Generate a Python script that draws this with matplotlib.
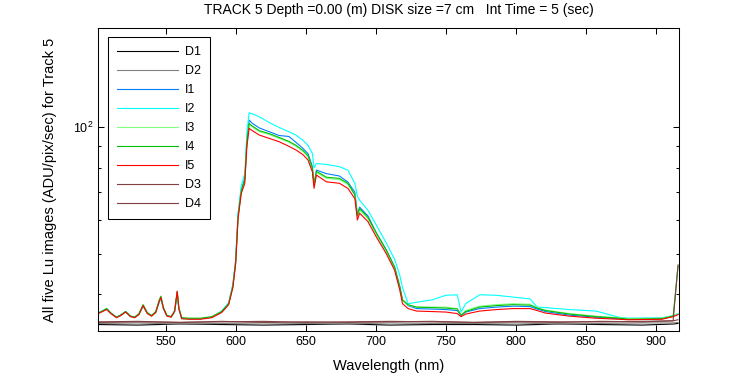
import matplotlib
matplotlib.use("Agg")
import matplotlib.pyplot as plt
from matplotlib.ticker import NullFormatter, FixedLocator

plt.rcParams['font.family'] = ['Liberation Sans', 'DejaVu Sans']
plt.rcParams['font.size'] = 9

# wavelength grid (nm) for the five Lu images
wl = [502, 505, 508, 511, 515, 518, 521.5, 525, 528, 531, 534, 537, 540, 543,
      545.5, 546.7, 548.5, 551, 554, 556.5, 558.3, 559.5, 561.5, 567, 575, 583,
      590, 595, 598, 600, 601.7, 604, 606.5, 608, 609.6, 612, 617, 624, 631, 638,
      643, 648, 651.6, 654.7, 655.9, 657.6, 664.7, 674, 680, 685, 686.8, 688.4,
      694.3, 700.3, 707.4, 713.3, 717, 719, 723, 729, 740, 750, 758, 760.8, 764,
      774, 786, 798, 810, 815, 821, 838, 857, 873, 880, 904, 912, 915.5]

i1 = [36.1, 36.5, 36.9, 36.1, 35.3, 35.7, 36.4, 35.5, 35.3, 35.9, 37.5, 36.1, 35.6, 36.3,
      38.4, 39.1, 37.0, 35.6, 35.4, 36.4, 40.3, 37.0, 35.1, 35.0, 35.0, 35.3,
      36.4, 38.1, 42.0, 48.0, 61.5, 71.0, 75.5, 93.0, 103.9, 102.0, 99.5, 97.5, 95.5, 95.0,
      92.0, 89.0, 86.5, 80.5, 73.0, 79.0, 77.5, 76.5, 74.0, 70.0, 62.0, 64.5,
      61.5, 56.0, 51.0, 46.5, 41.8, 38.8, 37.6, 37.0, 36.9, 36.8, 36.6, 35.6, 36.3,
      37.0, 37.3, 37.5, 37.4, 36.9, 36.4, 35.7, 35.3, 35.0, 34.9, 35.0, 35.5, 35.9]

i2 = [36.2, 36.6, 37.0, 36.1, 35.2, 35.7, 36.4, 35.4, 35.3, 35.9, 37.4, 36.1, 35.6, 36.3,
      38.3, 39.0, 36.9, 35.5, 35.4, 36.3, 40.0, 36.8, 35.0, 35.0, 35.0, 35.3,
      36.5, 38.2, 42.3, 48.5, 62.5, 72.5, 77.5, 97.0, 108.2, 107.5, 105.8, 102.5, 99.8, 97.5,
      95.7, 93.0, 90.5, 86.6, 80.0, 81.9, 81.5, 80.5, 79.0, 73.5, 68.5, 67.0,
      63.4, 58.5, 53.0, 48.5, 44.5, 41.5, 38.0, 38.3, 38.8, 39.8, 39.9, 36.3, 38.0,
      39.9, 39.8, 39.4, 39.0, 37.3, 37.2, 36.8, 36.5, 35.3, 35.1, 35.2, 35.6, 36.0]

i3 = [36.1, 36.5, 36.9, 36.0, 35.3, 35.6, 36.3, 35.5, 35.2, 35.8, 37.7, 36.0, 35.5, 36.2,
      38.6, 39.4, 37.1, 35.6, 35.3, 36.5, 40.5, 37.1, 35.1, 34.9, 35.0, 35.3,
      36.3, 37.9, 41.7, 47.6, 61.0, 70.0, 74.5, 91.5, 101.5, 100.0, 97.5, 96.0, 94.0, 92.0,
      90.0, 87.5, 85.0, 79.5, 72.5, 78.0, 75.5, 75.0, 73.0, 69.0, 61.5, 63.5,
      60.5, 55.5, 50.5, 46.2, 41.5, 38.6, 37.7, 37.3, 37.3, 37.3, 37.0, 35.7, 36.6,
      37.5, 37.8, 38.0, 37.9, 37.2, 36.7, 36.0, 35.5, 35.2, 35.0, 35.1, 35.6, 36.0]

i4 = [36.1, 36.5, 37.0, 36.1, 35.3, 35.7, 36.4, 35.5, 35.3, 36.0, 37.8, 36.2, 35.6, 36.4,
      38.8, 39.6, 37.2, 35.6, 35.4, 36.6, 40.6, 37.1, 35.2, 35.1, 35.1, 35.4,
      36.4, 38.0, 41.8, 47.8, 61.2, 70.5, 75.0, 92.0, 102.0, 100.5, 98.0, 96.5, 94.5, 92.5,
      90.5, 88.0, 85.5, 80.0, 73.0, 78.5, 76.0, 75.5, 73.5, 69.0, 61.5, 64.0,
      61.0, 56.0, 51.0, 46.5, 41.8, 38.8, 37.8, 37.3, 37.2, 37.1, 36.9, 35.7, 36.4,
      37.3, 37.6, 37.8, 37.7, 37.1, 36.6, 35.9, 35.4, 35.1, 34.9, 35.0, 35.5, 46.7]

i5 = [36.0, 36.4, 36.8, 36.0, 35.2, 35.6, 36.3, 35.4, 35.2, 35.8, 37.6, 36.0, 35.5, 36.2,
      38.5, 39.3, 37.0, 35.5, 35.3, 36.5, 40.7, 37.0, 35.0, 34.9, 34.9, 35.2,
      36.2, 37.8, 41.5, 47.3, 60.6, 69.5, 73.5, 89.8, 99.3, 98.0, 95.7, 94.0, 92.3, 90.0,
      88.2, 86.0, 83.5, 78.3, 71.5, 76.9, 74.1, 73.5, 71.5, 67.6, 60.1, 62.4,
      59.6, 54.8, 50.0, 45.7, 41.0, 38.0, 37.0, 36.5, 36.4, 36.3, 36.0, 35.4, 35.9,
      36.5, 36.8, 37.0, 37.0, 36.6, 36.1, 35.5, 35.1, 34.9, 34.8, 34.9, 35.4, 35.8]

# dark frames
wl_dark = [502, 530, 560, 590, 620, 650, 680, 710, 740, 770, 800, 830, 860, 890, 912, 915.5]
d1 = [33.9, 33.8, 34.0, 33.9, 33.8, 33.9, 34.0, 33.8, 33.9, 33.9, 33.8, 34.0, 33.9, 33.8, 34.0, 34.1]
d2 = [34.1, 34.2, 34.0, 34.1, 34.2, 34.1, 34.0, 34.2, 34.1, 34.1, 34.2, 34.0, 34.1, 34.2, 34.2, 34.3]
d3 = [34.4, 34.5, 34.3, 34.4, 34.5, 34.3, 34.4, 34.5, 34.4, 34.3, 34.5, 34.4, 34.4, 34.5, 34.6, 47.0]
d4 = [34.3, 34.4, 34.3, 34.5, 34.3, 34.4, 34.3, 34.4, 34.5, 34.3, 34.4, 34.3, 34.5, 34.4, 34.6, 34.8]

brown = '#804040'

fig = plt.figure(figsize=(7.5, 3.75), dpi=100)
ax = fig.add_axes([0.131, 0.117, 0.774, 0.808])

lw = 0.8
ax.plot(wl_dark, d1, color='black', lw=lw, label='D1')
ax.plot(wl_dark, d2, color='#808080', lw=lw, label='D2')
ax.plot(wl, i1, color='#0080ff', lw=lw, label='I1')
ax.plot(wl, i2, color='#00ffff', lw=lw, label='I2')
ax.plot(wl, i3, color='#80ff80', lw=lw, label='I3')
ax.plot(wl, i4, color='#00c000', lw=lw, label='I4')
ax.plot(wl, i5, color='#ff0000', lw=lw, label='I5')
ax.plot(wl_dark, d3, color=brown, lw=lw, label='D3')
ax.plot(wl_dark, d4, color=brown, lw=lw, label='D4')

ax.set_yscale('log')
ax.set_xlim(502, 916)
ax.set_ylim(32.7, 172)
ax.set_xticks([550, 600, 650, 700, 750, 800, 850, 900])
ax.yaxis.set_major_locator(FixedLocator([100]))
ax.set_yticklabels([r'$\mathregular{10^{2}}$'])
ax.yaxis.set_minor_locator(FixedLocator([40, 50, 60, 70, 80, 90]))
ax.yaxis.set_minor_formatter(NullFormatter())

ax.tick_params(which='both', direction='in', top=True, right=True, width=0.75)
ax.tick_params(which='major', length=4.3)
ax.tick_params(which='minor', length=2.2)
for s in ax.spines.values():
    s.set_linewidth(0.75)

ax.set_title('TRACK 5 Depth =0.00 (m) DISK size =7 cm   Int Time = 5 (sec)',
             fontsize=10, pad=10, x=0.518)
ax.set_xlabel('Wavelength (nm)', fontsize=10.5)
ax.set_ylabel('All five Lu images (ADU/pix/sec) for Track 5', fontsize=10.5)
ax.yaxis.set_label_coords(-0.071, 0.5)
ax.xaxis.set_label_coords(0.5, -0.093)

leg = ax.legend(loc='upper left', bbox_to_anchor=(0.0167, 0.970), borderaxespad=0,
                fancybox=False, framealpha=1, edgecolor='black', handlelength=4.9,
                handletextpad=0.55, labelspacing=0.56, borderpad=0.7, fontsize=9)
leg.get_frame().set_linewidth(0.75)

fig.savefig('out.png', dpi=100)
